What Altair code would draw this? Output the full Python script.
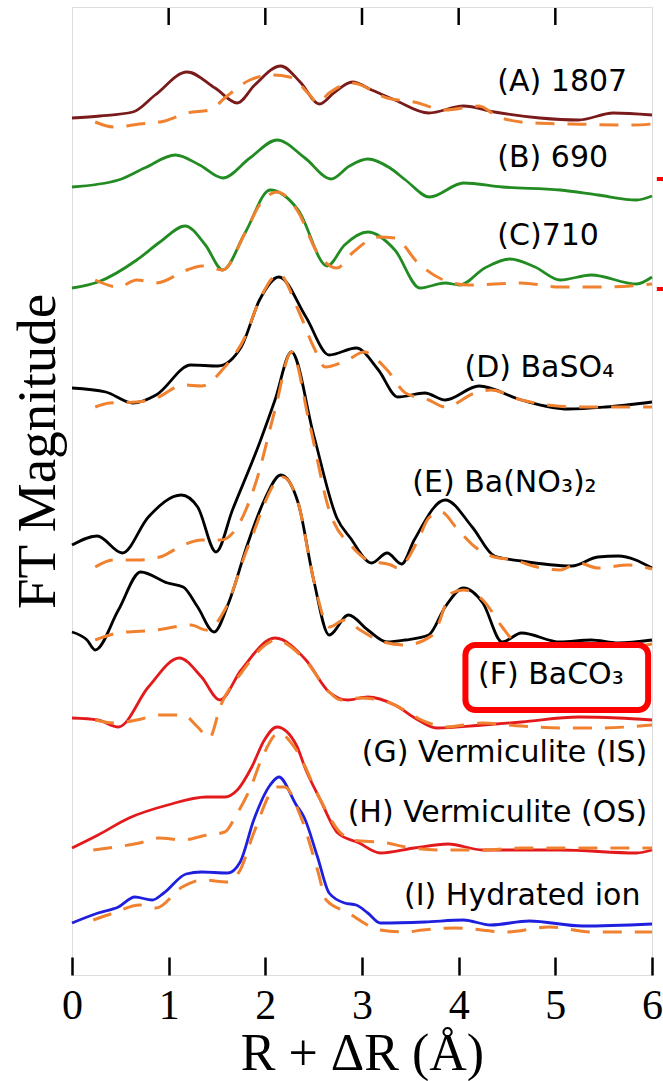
import altair as alt
import pandas as pd

# ---------------- data (R + dR in Angstrom, FT magnitude in offset units) -------------
A_R = [0.0, 0.29, 0.63, 0.86, 1.19, 1.48, 1.71, 1.89, 2.16, 2.36, 2.56, 2.72, 2.90, 3.10, 3.34, 3.69, 4.05, 4.37, 4.84, 5.24, 5.60, 6.0]
A_M = [85.7, 85.9, 86.3, 88.0, 90.3, 88.7, 87.2, 89.0, 90.9, 89.3, 87.1, 88.3, 89.3, 88.5, 87.5, 86.2, 86.9, 86.3, 85.7, 85.5, 86.2, 86.0]
AF_R = [0.24, 0.43, 0.70, 0.96, 1.19, 1.43, 1.58, 1.84, 2.07, 2.25, 2.46, 2.54, 2.66, 2.90, 3.26, 3.54, 3.86, 4.21, 4.41, 4.77, 5.16, 5.80, 6.0]
AF_M = [85.3, 84.8, 85.1, 85.4, 86.2, 86.5, 87.7, 89.5, 90.0, 89.8, 88.0, 87.2, 88.2, 89.2, 87.7, 87.3, 86.5, 86.9, 85.8, 85.2, 85.1, 85.0, 85.1]

B_R = [0.0, 0.48, 0.75, 1.07, 1.32, 1.56, 1.84, 2.12, 2.41, 2.68, 2.87, 3.06, 3.29, 3.45, 3.70, 4.05, 4.45, 5.05, 5.44, 5.84, 6.0]
B_M = [78.8, 79.5, 80.7, 82.0, 81.0, 79.7, 81.7, 83.5, 81.7, 79.6, 80.9, 81.6, 80.7, 79.5, 77.8, 79.2, 78.8, 78.5, 78.0, 77.5, 77.9]

C_R = [0.0, 0.27, 0.67, 0.91, 1.17, 1.38, 1.56, 1.79, 2.05, 2.34, 2.64, 2.82, 3.06, 3.34, 3.60, 3.86, 4.01, 4.27, 4.53, 4.79, 5.05, 5.37, 5.84, 6.0]
C_M = [68.7, 69.3, 71.5, 73.3, 74.9, 73.0, 70.5, 74.2, 78.5, 76.5, 70.9, 73.0, 74.3, 72.5, 68.7, 69.2, 69.0, 70.7, 71.6, 70.8, 69.5, 70.0, 69.1, 69.8]
CF_R = [0.24, 0.48, 0.67, 0.87, 1.19, 1.34, 1.56, 1.79, 1.94, 2.12, 2.34, 2.54, 2.74, 2.90, 3.17, 3.34, 3.58, 3.82, 4.10, 4.64, 5.05, 5.52, 6.0]
CF_M = [69.5, 68.8, 69.5, 69.2, 70.5, 70.9, 70.5, 74.2, 77.0, 78.3, 76.3, 72.2, 70.7, 72.2, 73.8, 73.7, 71.2, 69.6, 69.0, 69.2, 68.8, 68.8, 69.1]

D_R = [0.0, 0.35, 0.63, 0.87, 1.23, 1.51, 1.75, 1.94, 2.14, 2.42, 2.66, 2.94, 3.17, 3.37, 3.65, 3.86, 4.21, 4.65, 5.13, 5.52, 6.0]
D_M = [58.7, 58.3, 57.2, 58.0, 61.0, 60.9, 62.8, 67.5, 69.8, 65.8, 62.0, 62.7, 60.5, 57.8, 58.2, 57.5, 58.9, 57.5, 56.6, 56.8, 57.3]
DF_R = [0.24, 0.39, 0.67, 0.87, 1.15, 1.34, 1.58, 1.79, 1.94, 2.14, 2.34, 2.50, 2.62, 2.85, 3.02, 3.26, 3.45, 3.69, 3.86, 4.17, 4.33, 4.65, 5.20, 5.56, 6.0]
DF_M = [56.8, 57.2, 57.3, 57.7, 59.0, 58.9, 60.8, 63.8, 67.5, 70.1, 66.5, 62.8, 60.8, 61.5, 62.3, 60.5, 58.2, 57.5, 56.8, 58.2, 58.5, 57.5, 56.8, 56.8, 56.8]

E_R = [0.0, 0.26, 0.52, 0.79, 1.13, 1.30, 1.49, 1.66, 1.94, 2.10, 2.27, 2.50, 2.74, 2.88, 3.10, 3.26, 3.41, 3.54, 3.86, 4.14, 4.37, 4.65, 5.17, 5.44, 5.65, 6.0]
E_M = [43.0, 43.9, 42.2, 45.8, 48.0, 46.8, 42.3, 46.5, 53.2, 57.5, 62.3, 54.0, 45.7, 43.7, 41.2, 42.2, 41.1, 43.5, 47.5, 44.8, 41.9, 41.4, 40.9, 41.8, 41.9, 40.7]
EF_R = [0.24, 0.43, 0.67, 0.91, 1.15, 1.34, 1.54, 1.75, 1.90, 2.10, 2.27, 2.46, 2.66, 2.90, 3.06, 3.30, 3.37, 3.58, 3.69, 3.82, 3.97, 4.17, 4.37, 4.57, 4.81, 5.05, 5.24, 5.44, 5.76, 6.0]
EF_M = [40.8, 41.5, 41.5, 41.8, 43.0, 43.5, 43.5, 45.5, 49.2, 56.5, 62.3, 55.0, 46.5, 42.8, 41.5, 41.0, 40.7, 43.5, 45.7, 46.3, 44.8, 42.8, 41.8, 41.5, 40.8, 40.5, 41.2, 40.7, 41.0, 40.6]

E2_R = [0.0, 0.155, 0.24, 0.48, 0.71, 0.99, 1.15, 1.30, 1.47, 1.62, 1.82, 1.99, 2.16, 2.34, 2.50, 2.66, 2.86, 3.06, 3.26, 3.45, 3.69, 3.86, 4.05, 4.25, 4.45, 4.65, 5.05, 5.37, 5.65, 6.0]
E2_M = [34.3, 33.5, 32.5, 36.5, 40.3, 39.2, 38.8, 36.8, 34.3, 37.2, 43.2, 47.5, 50.0, 47.2, 39.5, 34.0, 36.0, 34.5, 33.3, 33.5, 34.0, 36.8, 38.7, 37.2, 33.3, 34.2, 33.3, 33.5, 33.2, 33.5]
E2F_R = [0.24, 0.48, 0.87, 1.23, 1.39, 1.58, 1.82, 2.18, 2.34, 2.50, 2.66, 2.82, 2.98, 3.22, 3.45, 3.73, 3.93, 4.05, 4.25, 4.45, 4.65, 4.89, 5.24, 5.67, 6.0]
E2F_M = [33.5, 34.2, 34.5, 35.0, 34.5, 36.5, 42.8, 49.8, 47.2, 39.5, 34.8, 35.5, 34.5, 33.3, 33.0, 34.0, 38.2, 38.5, 37.5, 34.8, 32.5, 31.5, 31.5, 32.5, 33.1]

F_R = [0.0, 0.27, 0.48, 0.79, 1.11, 1.34, 1.53, 1.75, 2.10, 2.42, 2.66, 2.85, 3.06, 3.34, 3.58, 3.77, 4.25, 4.65, 5.24, 5.65, 6.0]
F_M = [25.7, 25.5, 24.8, 28.8, 31.7, 29.8, 27.5, 30.5, 33.7, 31.5, 28.3, 27.5, 27.8, 27.0, 25.5, 24.7, 25.0, 25.3, 25.8, 25.7, 25.5]
FF_R = [0.24, 0.43, 0.67, 0.91, 1.15, 1.30, 1.42, 1.54, 1.75, 2.03, 2.10, 2.42, 2.66, 2.78, 2.98, 3.26, 3.69, 3.86, 4.25, 4.65, 5.05, 5.44, 6.0]
FF_M = [25.5, 25.2, 25.5, 26.0, 26.0, 24.8, 23.7, 27.0, 30.2, 33.2, 33.5, 31.4, 28.3, 27.5, 27.7, 27.3, 25.2, 24.8, 25.2, 24.9, 24.7, 24.7, 25.0]

G_R = [0.0, 0.27, 0.59, 0.99, 1.39, 1.58, 1.71, 1.86, 1.99, 2.12, 2.32, 2.42, 2.57, 2.75, 2.97, 3.19, 3.54, 3.89, 4.25, 5.05, 5.84, 6.0]
G_M = [12.7, 14.0, 15.7, 17.0, 17.8, 17.8, 18.5, 20.8, 23.5, 24.8, 23.0, 20.5, 17.5, 14.2, 13.2, 12.2, 12.7, 13.1, 12.5, 12.5, 12.2, 12.5]
GF_R = [0.22, 0.45, 0.70, 0.90, 1.15, 1.35, 1.58, 1.70, 1.85, 1.97, 2.14, 2.32, 2.57, 2.77, 2.90, 3.26, 3.45, 3.86, 4.25, 4.65, 5.24, 6.0]
GF_M = [12.5, 12.8, 13.2, 13.7, 13.5, 13.9, 14.3, 16.0, 18.8, 21.8, 24.2, 22.5, 17.5, 14.3, 13.5, 13.2, 12.8, 12.5, 12.5, 12.7, 12.7, 12.7]

I_R = [0.0, 0.27, 0.48, 0.65, 0.83, 0.95, 1.18, 1.34, 1.61, 1.74, 1.88, 2.05, 2.14, 2.32, 2.40, 2.54, 2.66, 2.82, 2.94, 3.06, 3.19, 3.65, 4.05, 4.33, 4.73, 5.28, 6.0]
I_M = [5.2, 6.2, 6.8, 7.8, 7.5, 8.2, 10.1, 10.3, 10.2, 11.3, 15.5, 19.0, 19.8, 17.0, 15.8, 11.8, 8.2, 7.2, 7.0, 6.2, 5.2, 5.3, 5.5, 5.0, 5.4, 4.9, 5.1]
IF_R = [0.22, 0.43, 0.70, 0.87, 1.14, 1.35, 1.61, 1.74, 1.88, 2.12, 2.20, 2.36, 2.54, 2.63, 2.84, 3.19, 3.45, 3.63, 3.97, 4.50, 4.94, 5.38, 6.0]
IF_M = [5.5, 6.2, 7.0, 6.7, 8.8, 9.5, 9.3, 10.5, 14.2, 18.8, 18.8, 16.0, 10.5, 7.5, 6.3, 4.5, 4.3, 4.5, 4.7, 4.3, 4.8, 4.3, 4.3]

SERIES = ["A", "B", "C", "D", "E", "E2", "F", "G", "I"]
SERIES_COLORS = ["#7a1a1a", "#228b22", "#228b22", "#000000", "#000000", "#000000", "#e31a1c", "#e31a1c", "#1f1fe0"]
FIT_COLOR = "#f0812f"

LEFT_LABELS = ["(A) 1807", "(B) 690", "(C)710", "(D) BaSO\u2084", "(E) Ba(NO\u2083)\u2082", "(F) BaCO\u2083"]
LEFT_LABEL_R = [4.40, 4.40, 4.40, 4.06, 3.52, 4.20]
LEFT_LABEL_M = [89.3, 81.7, 73.9, 60.7, 49.2, 30.0]
RIGHT_LABELS = ["(G) Vermiculite (IS)", "(H) Vermiculite (OS)", "(I) Hydrated ion"]
RIGHT_LABEL_R = [5.95, 5.95, 5.88]
RIGHT_LABEL_M = [22.2, 16.2, 7.9]

TICKS = [0, 1, 2, 3, 4, 5, 6]
Y_TOP = 96.8
TICK_LEN = 1.8

# ---------------- tables ---------------------------------------------------------------
solid = {"A": (A_R, A_M), "B": (B_R, B_M), "C": (C_R, C_M), "D": (D_R, D_M), "E": (E_R, E_M),
         "E2": (E2_R, E2_M), "F": (F_R, F_M), "G": (G_R, G_M), "I": (I_R, I_M)}
fits = {"A": (AF_R, AF_M), "C": (CF_R, CF_M), "D": (DF_R, DF_M), "E": (EF_R, EF_M),
        "E2": (E2F_R, E2F_M), "F": (FF_R, FF_M), "G": (GF_R, GF_M), "I": (IF_R, IF_M)}

rows = []
for s, (rr, mm) in solid.items():
    for r, m in zip(rr, mm):
        rows.append({"series": s, "R": r, "M": m})
df_solid = pd.DataFrame(rows)
rows = []
for s, (rr, mm) in fits.items():
    for r, m in zip(rr, mm):
        rows.append({"series": s, "R": r, "M": m})
df_fit = pd.DataFrame(rows)

df_left = pd.DataFrame({"label": LEFT_LABELS, "R": LEFT_LABEL_R, "M": LEFT_LABEL_M})
df_right = pd.DataFrame({"label": RIGHT_LABELS, "R": RIGHT_LABEL_R, "M": RIGHT_LABEL_M})
inner = TICKS[1:-1]
df_ticks_top = pd.DataFrame({"t": inner, "y1": [Y_TOP - 0.1] * len(inner), "y2": [Y_TOP - TICK_LEN] * len(inner)})
df_box = pd.DataFrame({"r1": [4.07], "r2": [5.96], "m1": [26.5], "m2": [33.0]})
df_marks = pd.DataFrame({"r1": [6.05, 6.05], "r2": [6.12, 6.12], "m": [79.6, 68.6]})

xs = alt.Scale(domain=[0, 6], nice=False, zero=False)
ys = alt.Scale(domain=[0, Y_TOP], nice=False, zero=False)

# bottom axis pulled 18 px into the plot so its ticks point inward
x_axis = alt.Axis(values=TICKS, format="d", ticks=True, tickSize=18, tickWidth=2.5, tickColor="black",
                  offset=-18, domain=False, grid=False,
                  labelFont="Liberation Serif", labelFontSize=42, labelColor="black",
                  labelBaseline="alphabetic", labelPadding=43, labelFlush=False,
                  title="R + \u0394R (\u00c5)", titleFont="Liberation Serif", titleFontSize=52,
                  titleFontWeight="normal", titleColor="black", titleBaseline="alphabetic", titleY=112)
y_axis = alt.Axis(labels=False, ticks=False, domain=False, grid=False,
                  title="FT Magnitude", titleFont="Liberation Serif", titleFontSize=55,
                  titleFontWeight="normal", titleColor="black", titleAngle=270,
                  titleBaseline="middle", titleAlign="center", titleX=-35, titleY=444)

base_x = alt.X("R:Q", scale=xs, axis=x_axis)
base_y = alt.Y("M:Q", scale=ys, axis=y_axis)

lines = alt.Chart(df_solid).mark_line(strokeWidth=2.8, interpolate="monotone").encode(
    x=base_x, y=base_y,
    color=alt.Color("series:N", scale=alt.Scale(domain=SERIES, range=SERIES_COLORS), legend=None),
)
fit_lines = alt.Chart(df_fit).mark_line(strokeWidth=3, interpolate="monotone", color=FIT_COLOR,
                                        strokeDash=[19, 13]).encode(
    x=alt.X("R:Q", scale=xs), y=alt.Y("M:Q", scale=ys), detail="series:N",
)
box = alt.Chart(df_box).mark_rect(fill="white", stroke="#ff0000", strokeWidth=6, cornerRadius=10).encode(
    x=alt.X("r1:Q", scale=xs), x2="r2:Q", y=alt.Y("m1:Q", scale=ys), y2="m2:Q",
)
left_text = alt.Chart(df_left).mark_text(align="left", baseline="middle", font="DejaVu Sans",
                                         fontSize=30, color="black").encode(
    x=alt.X("R:Q", scale=xs), y=alt.Y("M:Q", scale=ys), text="label:N",
)
right_text = alt.Chart(df_right).mark_text(align="right", baseline="middle", font="DejaVu Sans",
                                           fontSize=30, color="black").encode(
    x=alt.X("R:Q", scale=xs), y=alt.Y("M:Q", scale=ys), text="label:N",
)
ticks_top = alt.Chart(df_ticks_top).mark_rule(color="black", strokeWidth=2.5).encode(
    x=alt.X("t:Q", scale=xs), y=alt.Y("y1:Q", scale=ys), y2="y2:Q",
)
red_marks = alt.Chart(df_marks).mark_rule(color="#ff0000", strokeWidth=4).encode(
    x=alt.X("r1:Q", scale=xs), x2="r2:Q", y=alt.Y("m:Q", scale=ys),
)

chart = alt.layer(
    lines, fit_lines, box, left_text, right_text, ticks_top, red_marks
).properties(
    width=580, height=968,
    padding={"left": 72, "top": 7, "right": 11, "bottom": 106},
    autosize=alt.AutoSizeParams(type="none"),
).configure_view(stroke="black", strokeWidth=2.5).configure(background="white")

chart.save("out.html", embed_options={"renderer": "svg", "actions": False})
